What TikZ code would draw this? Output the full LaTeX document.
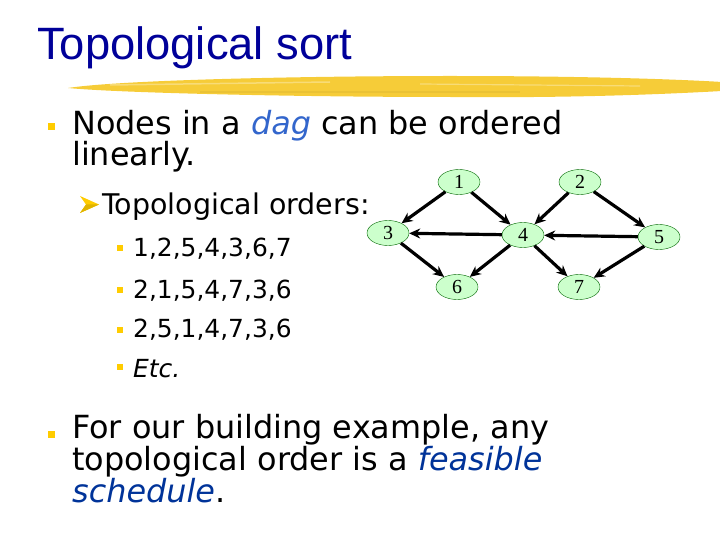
\documentclass[tikz,border=0pt]{standalone}
\usepackage{fontspec}
\setmainfont{DejaVu Sans}
\newfontfamily\titlefont{Liberation Sans}
\newfontfamily\vertexfont{Liberation Serif}
\usepackage{tikz}
\usetikzlibrary{shapes,arrows.meta,positioning}
\definecolor{titleblue}{RGB}{0,0,153}
\definecolor{dagblue}{RGB}{51,102,204}
\definecolor{schedblue}{RGB}{0,51,153}
\definecolor{bulletyellow}{RGB}{255,204,0}
\definecolor{brushgold}{RGB}{246,204,56}
\definecolor{nodegreen}{RGB}{204,255,204}
\tikzstyle{vertex} = [ellipse, draw=black!60!green, thin, fill=nodegreen,
                      minimum width=42bp, minimum height=25bp, inner sep=0pt,
                      font=\vertexfont\fontsize{20}{20}\selectfont]
\tikzstyle{edge} = [line width=3.2bp, -{Stealth[length=11bp,width=10bp]}]
\tikzstyle{sqbullet} = [rectangle, fill=bulletyellow, inner sep=0pt, minimum size=7bp]
\tikzstyle{smallbullet} = [rectangle, fill=bulletyellow, inner sep=0pt, minimum size=6bp]
\tikzstyle{levelone} = [anchor=base west, inner sep=0pt, align=left,
                        font=\fontsize{32}{30}\selectfont]
\tikzstyle{leveltwo} = [anchor=base west, inner sep=0pt, font=\fontsize{28.6}{28}\selectfont]
\tikzstyle{levelthree} = [anchor=base west, inner sep=0pt, font=\fontsize{25}{25}\selectfont]

\begin{document}
\begin{tikzpicture}[x=1bp, y=-1bp]
    \useasboundingbox (0,0) rectangle (720,540);

    % Title and brush stroke
    \node[anchor=base west, inner sep=0pt, text=titleblue,
          font=\titlefont\fontsize{45.5}{45}\selectfont] (title) at (37,60) {Topological sort};
    \fill[brushgold] (68,88) .. controls (120,80) and (300,76) .. (450,76)
        .. controls (600,76) and (690,80) .. (722,82) -- (722,91)
        .. controls (650,95) and (560,98) .. (450,97)
        .. controls (300,97) and (120,93) .. (68,88) -- cycle;
    \draw[white!45!brushgold, line width=1.5bp, opacity=0.7] (110,85) -- (330,82);
    \draw[white!45!brushgold, line width=1.2bp, opacity=0.7] (420,84) -- (640,86);
    \draw[black!8!brushgold, line width=2bp, opacity=0.6] (200,92) -- (520,92);

    % First bullet (base anchor sits on the last line)
    \node[sqbullet] (b1) at (51,127) {};
    \node[levelone] (dagtext) at (72,166)
        {Nodes in a \textit{\color{dagblue}dag} can be ordered\\linearly.};

    % Sub bullet
    \fill[bulletyellow] (80,196) -- (99,204.5) -- (80,213) -- (86,204.5) -- cycle;
    \fill[black!12!bulletyellow] (86,204.5) -- (99,204.5) -- (80,213) -- cycle;
    \node[leveltwo] (orders) at (102,215) {Topological orders:};

    % Orders
    \node[smallbullet] (b31) at (120,248.5) {};
    \node[levelthree] (ord1) at (133,257) {1,2,5,4,3,6,7};
    \node[smallbullet] (b32) at (120,290) {};
    \node[levelthree] (ord2) at (133,298) {2,1,5,4,7,3,6};
    \node[smallbullet] (b33) at (120,330) {};
    \node[levelthree] (ord3) at (133,337) {2,5,1,4,7,3,6};
    \node[smallbullet] (b34) at (120,367) {};
    \node[levelthree] (etc) at (133,377) {\textit{Etc.}};

    % Last bullet
    \node[sqbullet] (b2) at (51,434) {};
    \node[levelone] (feasible) at (72,502)
        {For our building example, any\\topological order is a \textit{\color{schedblue}feasible}\\\textit{\color{schedblue}schedule}.};

    % The dag
    \node[vertex] (v1) at (459,182) {1};
    \node[vertex] (v2) at (580,182) {2};
    \node[vertex] (v3) at (388,233) {3};
    \node[vertex] (v4) at (523,235) {4};
    \node[vertex] (v5) at (659,237) {5};
    \node[vertex] (v6) at (457,287) {6};
    \node[vertex] (v7) at (579,287) {7};

    \draw[edge] (v1) -- (v3);
    \draw[edge] (v1) -- (v4);
    \draw[edge] (v2) -- (v4);
    \draw[edge] (v2) -- (v5);
    \draw[edge] (v4) -- (v3);
    \draw[edge] (v5) -- (v4);
    \draw[edge] (v3) -- (v6);
    \draw[edge] (v4) -- (v6);
    \draw[edge] (v4) -- (v7);
    \draw[edge] (v5) -- (v7);
\end{tikzpicture}
\end{document}
